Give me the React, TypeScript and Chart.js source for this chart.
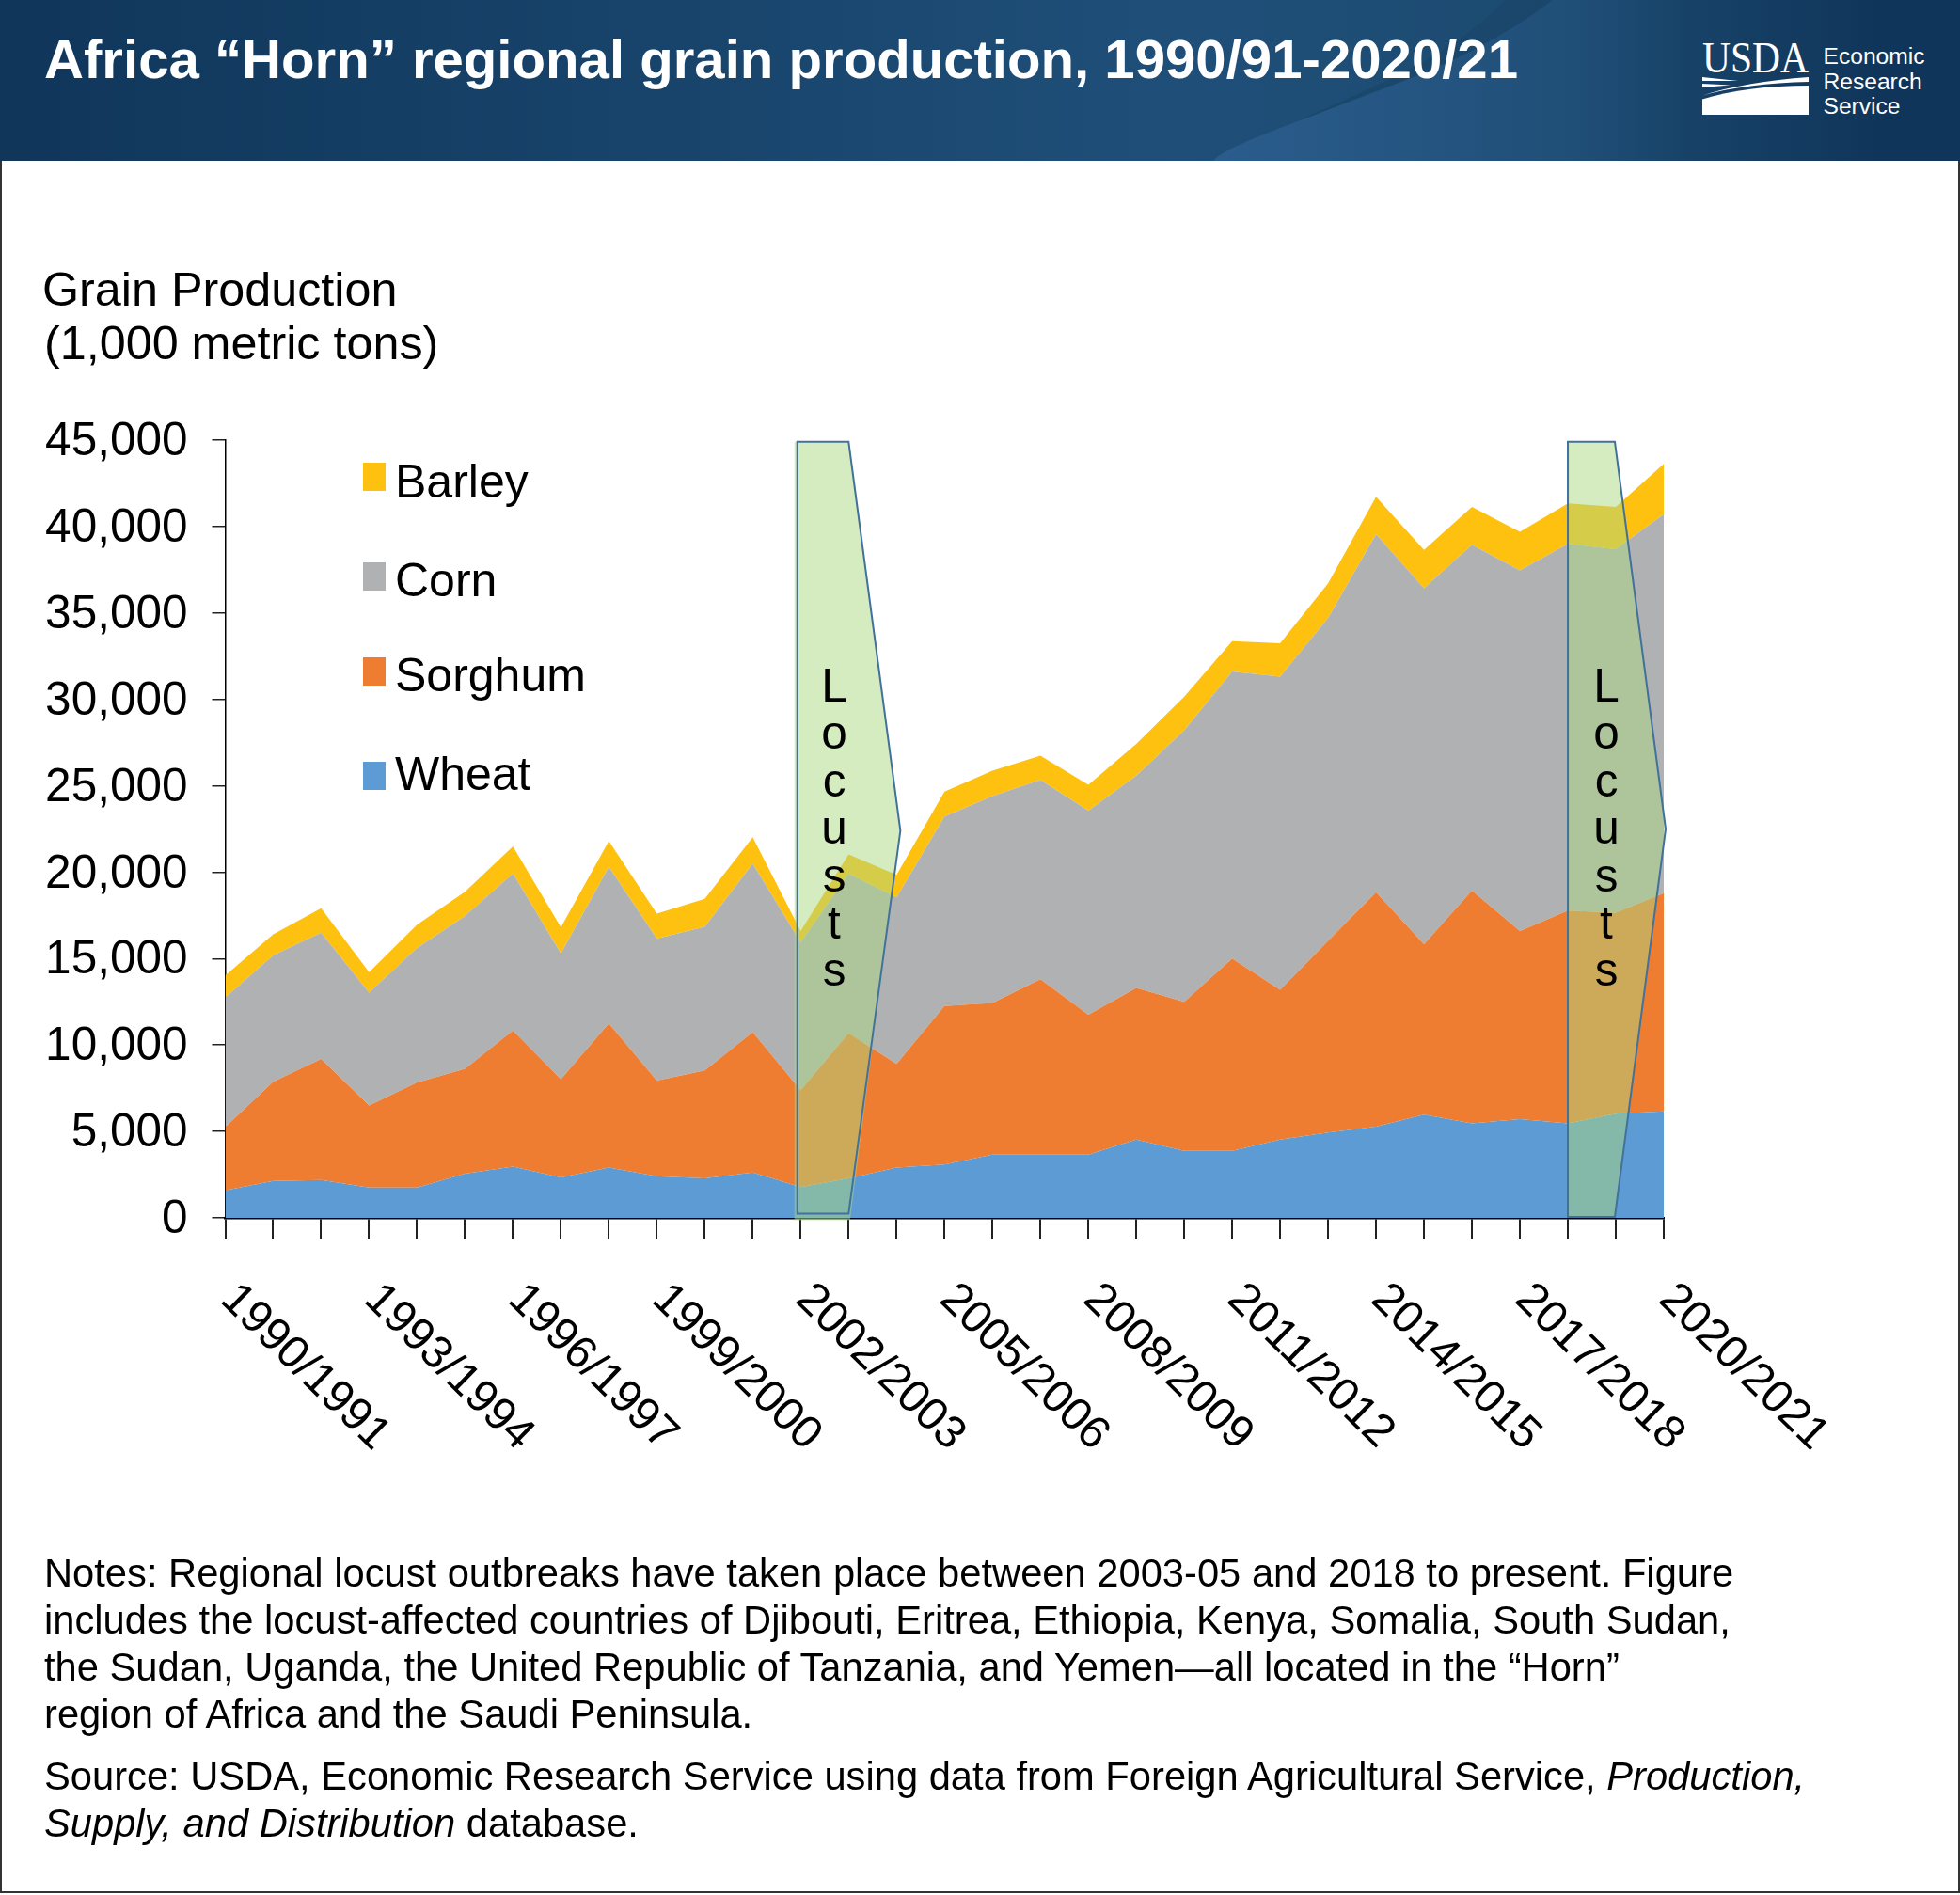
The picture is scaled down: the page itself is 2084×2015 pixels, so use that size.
import React, { useEffect, useRef } from "react";
import { Chart, registerables } from "chart.js";

Chart.register(...registerables);

const years = ["1990/1991","1991/1992","1992/1993","1993/1994","1994/1995","1995/1996","1996/1997","1997/1998","1998/1999","1999/2000","2000/2001","2001/2002","2002/2003","2003/2004","2004/2005","2005/2006","2006/2007","2007/2008","2008/2009","2009/2010","2010/2011","2011/2012","2012/2013","2013/2014","2014/2015","2015/2016","2016/2017","2017/2018","2018/2019","2019/2020","2020/2021"];
const wheat = [1590,2130,2190,1750,1750,2560,2970,2340,2910,2410,2280,2630,1780,2280,2910,3090,3660,3660,3660,4530,3880,3880,4530,4940,5280,5970,5470,5720,5470,6030,6160];
const sorghum = [3660,5750,7000,4750,6090,6060,7870,5690,8340,5530,6250,8120,5600,8410,6000,9160,8780,10150,8090,8780,8620,11120,8660,11090,13560,9870,13470,10870,12310,11630,12620];
const corn = [7500,7310,7310,6530,7780,8840,9090,7280,9060,8220,8310,9750,8560,9220,9630,10970,11970,11530,11810,12280,15720,16620,18120,18690,20720,20590,20000,20880,21220,21030,21940];
const barley = [1280,1220,1410,1190,1340,1410,1560,1500,1500,1440,1620,1530,660,1120,1310,1440,1470,1410,1500,1840,1940,1750,1940,2000,2160,2220,2190,2220,2340,2440,2910];

const locustA = { xs: [11.93, 13.0, 14.08, 13.0, 11.93], ys: [44900, 44900, 22400, 250, 250], fillXs: [11.87, 13.0, 14.08, 13.03, 11.87], fillYs: [44900, 44900, 22400, -130, -130] };
const locustB = { xs: [28.0, 28.98, 30.04, 28.98, 28.0], ys: [44900, 44900, 22500, 60, 60], fillXs: [28.0, 28.98, 30.04, 28.98, 28.0], fillYs: [44900, 44900, 22500, 60, 60] };

const FONT = '"Liberation Sans", Arial, sans-serif';
const legendRows = [
  { label: "Barley", color: "#FEC110", boxTop: 492, base: 529 },
  { label: "Corn", color: "#B0B1B3", boxTop: 598, base: 634 },
  { label: "Sorghum", color: "#EE7D31", boxTop: 699, base: 735 },
  { label: "Wheat", color: "#5C9BD3", boxTop: 810, base: 840 },
];

const overlayPlugin = {
  id: "overlay",
  afterDatasetsDraw(chart: any) {
    const { ctx, scales } = chart;
    ctx.save();
    const trace = (xs: number[], ys: number[]) => {
      ctx.beginPath();
      xs.forEach((v, i) => {
        const px = scales.x.getPixelForValue(v);
        const py = scales.y.getPixelForValue(ys[i]);
        if (i === 0) ctx.moveTo(px, py);
        else ctx.lineTo(px, py);
      });
      ctx.closePath();
    };
    for (const poly of [locustA, locustB]) {
      trace(poly.fillXs, poly.fillYs);
      ctx.fillStyle = "rgba(172,216,130,0.5)";
      ctx.fill();
      trace(poly.xs, poly.ys);
      ctx.strokeStyle = "#41719C";
      ctx.lineWidth = 2;
      ctx.stroke();
    }
    ctx.restore();
  },
  afterDraw(chart: any) {
    const { ctx, scales } = chart;
    ctx.save();
    ctx.fillStyle = "#000";
    ctx.font = `48.5px ${FONT}`;
    ctx.textAlign = "left";
    ctx.textBaseline = "middle";
    years.forEach((label, i) => {
      if (i % 3 !== 0) return;
      const x = scales.x.getPixelForValue(i);
      ctx.save();
      ctx.translate(x + 2.5, 1374);
      ctx.rotate((44.3 * Math.PI) / 180);
      ctx.fillText(label, 0, 0);
      ctx.restore();
    });
    ctx.textBaseline = "alphabetic";
    ctx.font = `50px ${FONT}`;
    for (const row of legendRows) {
      ctx.fillStyle = row.color;
      ctx.fillRect(386, row.boxTop, 24, 30);
      ctx.fillStyle = "#000";
      ctx.fillText(row.label, 420, row.base);
    }
    ctx.restore();
  },
};

function txt(left: number, baseline: number, size: number, extra: any = {}) {
  const lh = Math.round(size * 1.2);
  return {
    position: "absolute",
    left,
    top: baseline - lh / 2 - 0.3465 * size,
    fontSize: size,
    lineHeight: `${lh}px`,
    fontFamily: FONT,
    color: "#000",
    whiteSpace: "nowrap",
    ...extra,
  } as React.CSSProperties;
}

const noteLines: [number, React.ReactNode][] = [
  [1687, "Notes: Regional locust outbreaks have taken place between 2003-05 and 2018 to present. Figure"],
  [1737, "includes the locust-affected countries of Djibouti, Eritrea, Ethiopia, Kenya, Somalia, South Sudan,"],
  [1787, "the Sudan, Uganda, the United Republic of Tanzania, and Yemen\u2014all located in the \u201CHorn\u201D"],
  [1837, "region of Africa and the Saudi Peninsula."],
  [1903, <>Source: USDA, Economic Research Service using data from Foreign Agricultural Service, <i>Production,</i></>],
  [1953, <><i>Supply, and Distribution</i> database.</>],
];

function Locust({ left }: { left: number }) {
  return (
    <div
      style={{
        position: "absolute",
        left,
        top: 704,
        width: 30,
        fontFamily: FONT,
        fontSize: 49.5,
        lineHeight: "50.4px",
        textAlign: "center",
        color: "#000",
        wordBreak: "break-all",
      }}
    >
      Locusts
    </div>
  );
}

export default function App() {
  const ref = useRef<HTMLCanvasElement>(null);
  useEffect(() => {
    const area = (label: string, data: number[], color: string, fill: any) => ({
      label,
      data,
      backgroundColor: color,
      borderColor: color,
      borderWidth: 0,
      pointRadius: 0,
      tension: 0,
      fill,
    });
    const chart = new Chart(ref.current!, {
      type: "line",
      data: {
        labels: years,
        datasets: [
          area("Wheat", wheat, "#5C9BD3", "origin"),
          area("Sorghum", sorghum, "#EE7D31", "-1"),
          area("Corn", corn, "#B0B1B3", "-1"),
          area("Barley", barley, "#FEC110", "-1"),
        ],
      },
      options: {
        responsive: false,
        animation: false,
        devicePixelRatio: 1,
        layout: { padding: { left: 0, top: 468, right: 315, bottom: 0 } },
        plugins: { legend: { display: false }, tooltip: { enabled: false }, title: { display: false } },
        scales: {
          x: {
            type: "category",
            offset: false,
            grid: { drawOnChartArea: false, drawTicks: true, tickLength: 22, color: "#222", lineWidth: 2 },
            border: { display: true, color: "#000", width: 2.5 },
            ticks: { display: false, autoSkip: false },
            afterFit(s: any) { s.height = 720; },
          },
          y: {
            stacked: true,
            min: 0,
            max: 45000,
            grid: { drawOnChartArea: false, drawTicks: true, tickLength: 14, color: "#222", lineWidth: 1.5 },
            border: { display: true, color: "#000", width: 1.5 },
            ticks: {
              stepSize: 5000,
              autoSkip: false,
              padding: 26,
              color: "#000",
              font: { family: FONT, size: 49.5, lineHeight: "5px" },
              callback: (v: any) => ["", Number(v).toLocaleString("en-US")],
            },
            afterFit(s: any) { s.width = 239.5; },
          },
        },
      } as any,
      plugins: [overlayPlugin],
    } as any);
    return () => chart.destroy();
  }, []);

  return (
    <div style={{ position: "absolute", left: 0, top: 0, width: 2084, height: 2015, overflow: "hidden", background: "#fff" }}>
      <canvas ref={ref} width={2084} height={2015} style={{ position: "absolute", left: 0, top: 0, display: "block" }} />
      <div
        style={{
          position: "absolute", left: 0, top: 0, width: 2084, height: 171,
          background: "linear-gradient(90deg,#10365a 0%,#174269 30%,#1f4f79 60%,#1c4a70 80%,#10355a 96%)",
        }}
      />
      <svg width={2084} height={171} style={{ position: "absolute", left: 0, top: 0 }}>
        <defs>
          <linearGradient id="sw" x1="0" x2="1" y1="0" y2="0">
            <stop offset="0" stopColor="#2b5d8d" stopOpacity="0.95" />
            <stop offset="0.45" stopColor="#2b5d8d" stopOpacity="0.5" />
            <stop offset="1" stopColor="#2b5d8d" stopOpacity="0" />
          </linearGradient>
        </defs>
        <path d="M1290,171 C1300,160 1330,148 1377,130 L1500,83 C1560,60 1620,25 1650,0 L1800,0 L1800,171 Z" fill="url(#sw)" />
        <path d="M1377,130 C1440,100 1540,65 1600,0 L1650,0 C1620,25 1560,60 1500,83 Z" fill="#1a4669" opacity="0.75" />
        <text x="1810" y="77" fontFamily='"Liberation Serif", serif' fontSize="47" fill="#fff" textLength="113" lengthAdjust="spacingAndGlyphs">USDA</text>
        <path d="M1810,105.5 C1840,96 1880,91 1923,91 L1923,122 L1810,122 Z" fill="#fff" />
        <path d="M1810,101.5 C1840,92 1880,85 1923,82 L1923,87 C1880,88 1840,93 1810,101.5 Z" fill="#fff" />
        <path d="M1810,82 L1848,86 L1810,86 Z M1810,89 L1840,90.5 L1810,93 Z" fill="#fff" />
        <text x="1938.5" y="67.5" fontFamily={FONT} fontSize="24.6" fill="#fff">Economic</text>
        <text x="1938.5" y="94.5" fontFamily={FONT} fontSize="24.6" fill="#fff">Research</text>
        <text x="1938.5" y="121" fontFamily={FONT} fontSize="24.6" fill="#fff">Service</text>
      </svg>
      <div style={txt(47, 83, 58.15, { color: "#fff", fontWeight: 700 })}>Africa “Horn” regional grain production, 1990/91-2020/21</div>
      <div style={txt(45, 325, 50.3)}>Grain Production</div>
      <div style={txt(47, 382, 50.3)}>(1,000 metric tons)</div>
      <Locust left={872} />
      <Locust left={1693} />
      {noteLines.map(([b, c], i) => (
        <div key={i} style={txt(47, b, 41.7)}>{c}</div>
      ))}
      <div style={{ position: "absolute", left: 0, top: 171, width: 2084, height: 1842, boxSizing: "border-box", borderLeft: "2.5px solid #333", borderRight: "2.5px solid #333", borderBottom: "2.5px solid #333" }} />
    </div>
  );
}
